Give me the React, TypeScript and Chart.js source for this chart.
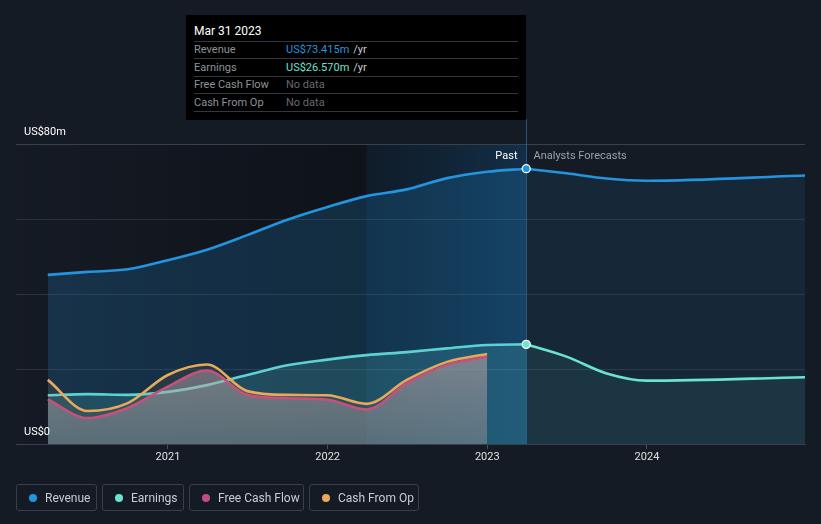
import React, { useEffect, useRef } from "react";
import { Chart, registerables } from "chart.js";

Chart.register(...registerables);

// ---- data (US$ millions, x = decimal year, quarter ends) ----
const pastDates = [2020.247, 2020.496, 2020.748, 2020.999, 2021.244, 2021.496, 2021.748, 2021.999, 2022.244, 2022.496, 2022.748, 2022.999, 2023.244];
const revenuePast = [45.1, 45.9, 46.6, 49.0, 51.8, 55.7, 59.8, 63.2, 66.1, 67.9, 70.9, 72.6, 73.415];
const earningsPast = [13.0, 13.3, 13.1, 13.9, 15.7, 18.4, 21.0, 22.5, 23.7, 24.5, 25.5, 26.4, 26.57];

const forecastDates = [2023.244, 2023.496, 2023.748, 2023.999, 2024.99];
const revenueForecast = [73.415, 72.2, 70.8, 70.2, 71.6];
const earningsForecast = [26.57, 23.3, 18.8, 16.9, 17.8];

const cashDates = [2020.247, 2020.496, 2020.748, 2020.999, 2021.244, 2021.496, 2021.748, 2021.999, 2022.244, 2022.496, 2022.748, 2022.999];
const freeCashFlow = [11.9, 6.9, 9.6, 15.3, 19.6, 13.1, 12.2, 11.8, 9.2, 16.2, 21.1, 23.3];
const cashFromOp = [17.1, 8.8, 10.9, 18.4, 21.2, 14.1, 13.1, 13.0, 10.7, 17.1, 21.9, 24.0];

const xTicks = [2021, 2022, 2023, 2024];
const yTicks = [0, 20, 40, 60, 80];
const yLabels = ["US$0", "US$80m"];

const X_MIN = 2020.048;
const X_MAX = 2024.99;
const DIVIDER = 2023.244;
const HIGHLIGHT_START = 2022.244;

const C_REV = "#2394df";
const C_EARN = "#6ae3d0";
const C_FCF = "#c6497f";
const C_CFO = "#e8a95a";

const FONT = "Roboto, 'Open Sans', sans-serif";

const zip = (xs: number[], ys: number[]) => xs.map((x, i) => ({ x, y: ys[i] }));

const bgPlugin = {
  id: "bgPlugin",
  beforeDraw(chart: any) {
    const { ctx, chartArea, scales } = chart;
    const { left, top, bottom } = chartArea;
    const x = scales.x;
    const xd = x.getPixelForValue(DIVIDER);
    const xh = x.getPixelForValue(HIGHLIGHT_START);
    ctx.save();
    ctx.fillStyle = "#151b25";
    ctx.fillRect(0, 0, chart.width, chart.height);
    const g = ctx.createLinearGradient(left, 0, xh, 0);
    g.addColorStop(0, "rgba(0,0,0,0.02)");
    g.addColorStop(1, "rgba(0,0,0,0.32)");
    ctx.fillStyle = g;
    ctx.fillRect(left, top, xh - left, bottom - top);
    ctx.fillStyle = "rgba(0,0,0,0.32)";
    ctx.fillRect(xh, top, xd - xh, bottom - top);
    const g2 = ctx.createLinearGradient(xh, 0, xd, 0);
    g2.addColorStop(0, "rgba(25,100,160,0.12)");
    g2.addColorStop(1, "rgba(30,120,190,0.28)");
    ctx.fillStyle = g2;
    ctx.fillRect(xh, top, xd - xh, bottom - top);
    ctx.restore();
  },
  beforeDatasetsDraw(chart: any) {
    const { ctx, chartArea, scales } = chart;
    const { bottom } = chartArea;
    const xd = Math.round(scales.x.getPixelForValue(DIVIDER)) + 0.5;
    ctx.save();
    ctx.strokeStyle = "rgba(60,130,190,0.55)";
    ctx.lineWidth = 1;
    ctx.beginPath();
    ctx.moveTo(xd, 119);
    ctx.lineTo(xd, bottom);
    ctx.stroke();
    ctx.restore();
  },
  afterDatasetsDraw(chart: any) {
    const { ctx, chartArea, scales } = chart;
    const { left, top } = chartArea;
    const x = scales.x;
    const y = scales.y;
    const xd = Math.round(x.getPixelForValue(DIVIDER)) + 0.5;
    ctx.save();
    ctx.font = `11px ${FONT}`;
    ctx.textBaseline = "middle";
    ctx.fillStyle = "#ffffff";
    ctx.textAlign = "left";
    ctx.fillText(yLabels[1], left + 8, y.getPixelForValue(80) - 12);
    ctx.fillText(yLabels[0], left + 8, y.getPixelForValue(0) - 12);

    ctx.textAlign = "right";
    ctx.fillStyle = "#ffffff";
    ctx.fillText("Past", xd - 9, top + 12);
    ctx.textAlign = "left";
    ctx.fillStyle = "#9aa0a8";
    ctx.fillText("Analysts Forecasts", xd + 7, top + 12);
    ctx.restore();
  },
};

function makeGray(ctx: CanvasRenderingContext2D, area: any) {
  const g = ctx.createLinearGradient(0, area.top + 200, 0, area.bottom);
  g.addColorStop(0, "rgba(205,175,185,0.5)");
  g.addColorStop(1, "rgba(150,150,165,0.38)");
  return g;
}

export default function App() {
  const ref = useRef<HTMLCanvasElement>(null);

  useEffect(() => {
    if (!ref.current) return;
    const lineBase = {
      cubicInterpolationMode: "monotone" as const,
      borderWidth: 2.6,
      pointRadius: 0,
      pointHoverRadius: 0,
    };
    const chart = new Chart(ref.current, {
      type: "line",
      data: {
        datasets: [
          {
            ...lineBase,
            label: "Revenue forecast",
            data: zip(forecastDates, revenueForecast),
            borderColor: C_REV,
            backgroundColor: "rgba(35,148,223,0.1)",
            fill: "origin",
            pointRadius: (c: any) => (c.dataIndex === 0 ? 4 : 0),
            pointBackgroundColor: C_REV,
            pointBorderColor: "#ffffff",
            pointBorderWidth: 1.3,
            order: 1,
          },
          {
            ...lineBase,
            label: "Revenue",
            data: zip(pastDates, revenuePast),
            borderColor: C_REV,
            backgroundColor: "rgba(35,148,223,0.2)",
            fill: "origin",
            order: 2,
          },
          {
            ...lineBase,
            label: "Earnings forecast",
            data: zip(forecastDates, earningsForecast),
            borderColor: C_EARN,
            backgroundColor: "rgba(106,227,208,0.08)",
            fill: "origin",
            pointRadius: (c: any) => (c.dataIndex === 0 ? 4 : 0),
            pointBackgroundColor: C_EARN,
            pointBorderColor: "#ffffff",
            pointBorderWidth: 1.3,
            order: 0,
          },
          {
            ...lineBase,
            label: "Earnings",
            data: zip(pastDates, earningsPast),
            borderColor: C_EARN,
            backgroundColor: "rgba(106,227,208,0.18)",
            fill: "origin",
            order: 3,
          },
          {
            ...lineBase,
            label: "Cash From Op",
            data: zip(cashDates, cashFromOp),
            borderColor: C_CFO,
            backgroundColor: "rgba(232,169,90,0.08)",
            fill: "origin",
            borderCapStyle: "butt",
            order: -1,
          },
          {
            ...lineBase,
            label: "Free Cash Flow",
            data: zip(cashDates, freeCashFlow),
            borderColor: C_FCF,
            backgroundColor: (c: any) => {
              const a = c.chart.chartArea;
              if (!a) return "rgba(180,160,170,0.45)";
              return makeGray(c.chart.ctx, a);
            },
            fill: "origin",
            borderCapStyle: "butt",
            order: -0.5,
          },
        ],
      },
      options: {
        animation: false,
        responsive: false,
        maintainAspectRatio: false,
        layout: { padding: { left: 16, right: 16, top: 144, bottom: 60 } },
        plugins: { legend: { display: false }, tooltip: { enabled: false } },
        events: [],
        scales: {
          x: {
            type: "linear",
            min: X_MIN,
            max: X_MAX,
            afterBuildTicks: (axis: any) => {
              axis.ticks = xTicks.map((v) => ({ value: v }));
            },
            afterFit: (axis: any) => {
              axis.height = 20;
            },
            grid: {
              drawOnChartArea: false,
              drawTicks: true,
              tickLength: 5,
              color: "#4a505a",
            },
            border: { display: true, color: "#3a404a", width: 1 },
            ticks: {
              color: "#e0e0e0",
              font: { family: FONT, size: 11 },
              padding: 2,
              maxRotation: 0,
              callback: (v: any) => String(v),
            },
          },
          y: {
            min: 0,
            max: 80,
            afterBuildTicks: (axis: any) => {
              axis.ticks = yTicks.map((v) => ({ value: v }));
            },
            afterFit: (axis: any) => {
              axis.width = 0;
            },
            ticks: { display: false },
            border: { display: false },
            grid: {
              color: (c: any) => (c.tick && c.tick.value === 80 ? "#3a404a" : "rgba(255,255,255,0.1)"),
              drawTicks: false,
              lineWidth: 1,
            },
          },
        },
      },
      plugins: [bgPlugin],
    } as any);
    return () => chart.destroy();
  }, []);

  const legendItems = [
    { label: "Revenue", color: C_REV, width: 81 },
    { label: "Earnings", color: C_EARN, width: 82 },
    { label: "Free Cash Flow", color: "#c24b88", width: 115 },
    { label: "Cash From Op", color: C_CFO, width: 110 },
  ];

  const rows = [
    { label: "Revenue", value: "US$73.415m", color: C_REV, unit: "/yr", h: 17 },
    { label: "Earnings", value: "US$26.570m", color: C_EARN, unit: "/yr", h: 18 },
    { label: "Free Cash Flow", value: "No data", color: "#666a70", unit: "", h: 17 },
    { label: "Cash From Op", value: "No data", color: "#666a70", unit: "", h: 18 },
  ];

  return (
    <div style={{ position: "relative", width: 821, height: 524, background: "#151b25", fontFamily: FONT, overflow: "hidden" }}>
      <style>{`html,body{margin:0;padding:0;background:#151b25;}`}</style>
      <canvas ref={ref} width={821} height={524} style={{ position: "absolute", left: 0, top: 0, width: 821, height: 524 }} />
      <div
        style={{
          position: "absolute",
          left: 186,
          top: 15,
          width: 340,
          height: 105,
          background: "#000",
          boxSizing: "border-box",
          padding: "0 8px",
        }}
      >
        <div style={{ height: 26, boxSizing: "border-box", paddingTop: 8, lineHeight: "16px", fontSize: 12, color: "#fff" }}>
          Mar 31 2023
        </div>
        {rows.map((r) => (
          <div
            key={r.label}
            style={{
              height: r.h,
              boxSizing: "border-box",
              borderTop: "1px solid #33363b",
              display: "flex",
              alignItems: "center",
              fontSize: 11,
              lineHeight: "16px",
            }}
          >
            <span style={{ width: 92, color: "#8d9298" }}>{r.label}</span>
            <span style={{ color: r.color }}>{r.value}</span>
            {r.unit ? <span style={{ color: "#c8ccd0", marginLeft: 4 }}>{r.unit}</span> : null}
          </div>
        ))}
        <div style={{ borderTop: "1px solid #33363b" }} />
      </div>
      <div style={{ position: "absolute", left: 16, top: 484, display: "flex", gap: 5 }}>
        {legendItems.map((it) => (
          <div
            key={it.label}
            style={{
              width: it.width,
              height: 27,
              boxSizing: "border-box",
              border: "1px solid #3a3f47",
              borderRadius: 3,
              display: "flex",
              alignItems: "center",
              paddingLeft: 12,
              fontSize: 12,
              color: "#c9ccd1",
            }}
          >
            <span
              style={{
                width: 8,
                height: 8,
                borderRadius: 4,
                background: it.color,
                display: "inline-block",
                marginRight: 8,
              }}
            />
            {it.label}
          </div>
        ))}
      </div>
    </div>
  );
}
